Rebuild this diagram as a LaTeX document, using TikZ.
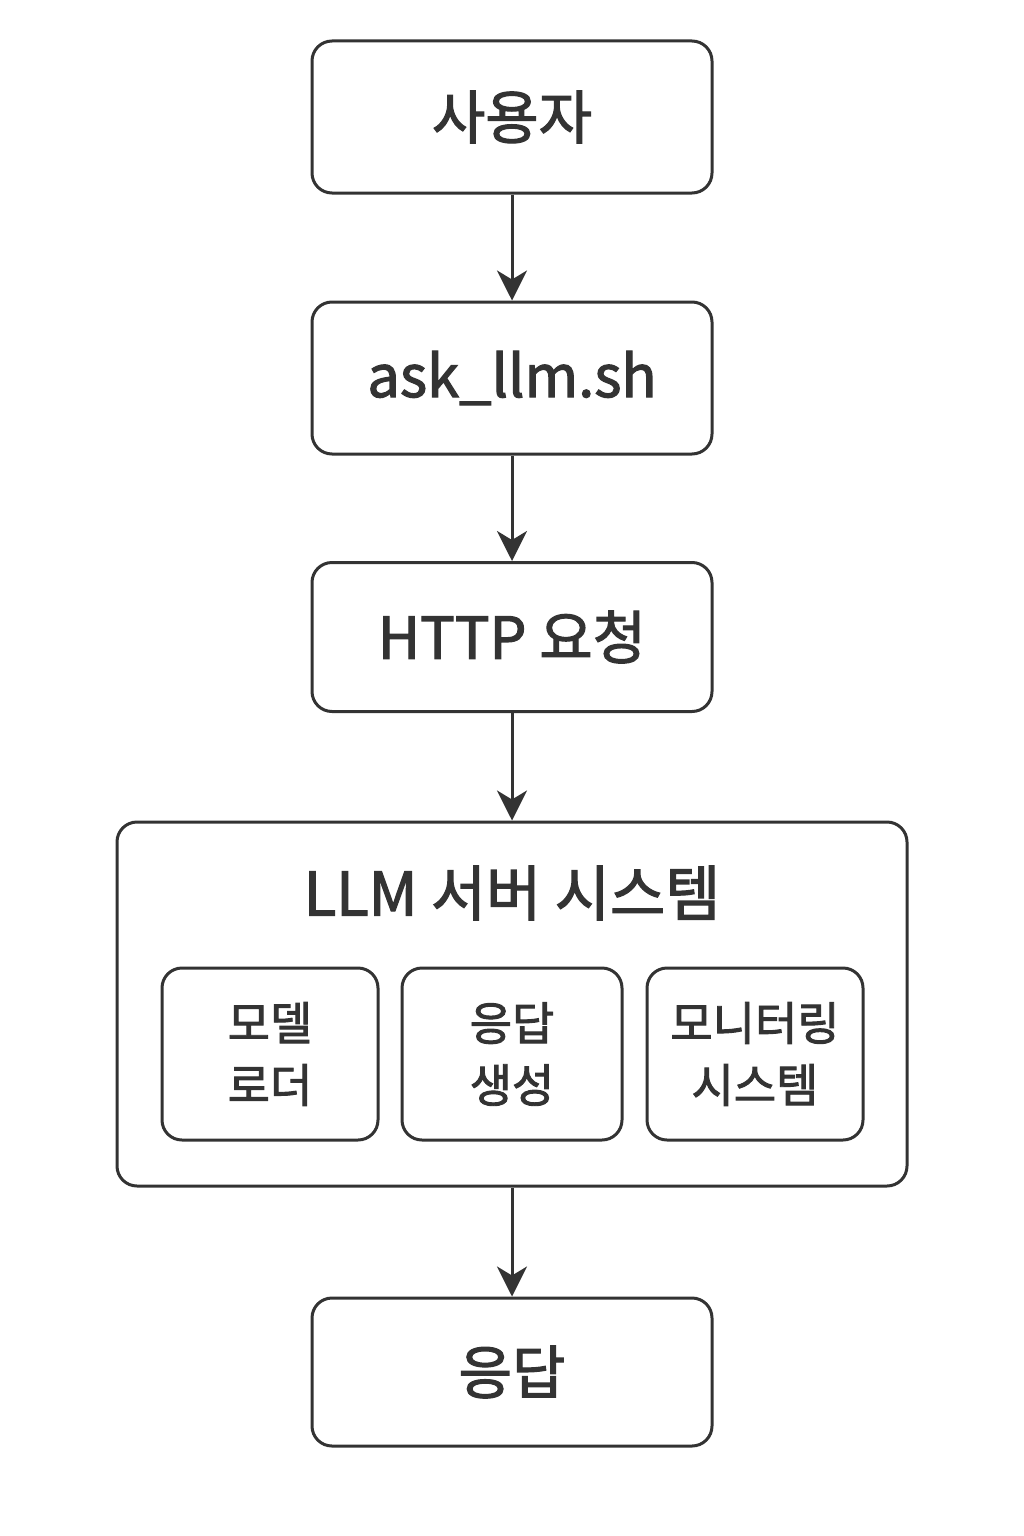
\documentclass[tikz,border=0pt]{standalone}
\usepackage{fontspec}
\setmainfont{Noto Sans CJK KR}[BoldFont={Noto Sans CJK KR}, BoldFeatures={FakeBold=2}]
\usetikzlibrary{arrows.meta, positioning}

\begin{document}
\begin{tikzpicture}[
		x=1pt, y=-1pt,
		line width=3pt, draw=black!80, text=black!80,
		stepbox/.style={draw, rounded corners=20pt, minimum width=400pt, minimum height=152pt,
			font=\fontsize{58}{62}\selectfont\bfseries},
		subbox/.style={draw, rounded corners=20pt, minimum width=216pt, minimum height=172pt,
			align=center, font=\fontsize{46}{62}\selectfont\bfseries},
		flow/.style={-{Stealth[length=30pt, width=30pt, inset=9pt]}, black!80}
	]
	\useasboundingbox (0,0) rectangle (1024,1536);
	% main chain
	\node[stepbox] (user) at (512,117) {사용자};
	\node[stepbox] (script) at (512,378) {ask\_llm.sh};
	\node[stepbox, minimum height=149pt] (http) at (512,637) {HTTP 요청};
	% server system
	\node[draw, rounded corners=20pt, minimum width=790pt, minimum height=364pt] (server) at (512,1004) {};
	\node[font=\fontsize{60}{62}\selectfont\bfseries] (title) at (512,893) {LLM 서버 시스템};
	\node[subbox] (loader) at (270,1054) {모델\\로더};
	\node[subbox, minimum width=220pt] (gen) at (512,1054) {응답\\생성};
	\node[subbox] (monitor) at (755,1054) {모니터링\\시스템};
	\node[stepbox, minimum height=148pt] (answer) at (512,1372) {응답};
	% arrows
	\draw[flow] (user) -- (script);
	\draw[flow] (script) -- (http);
	\draw[flow] (http) -- (server);
	\draw[flow] (server) -- (answer);
\end{tikzpicture}
\end{document}
